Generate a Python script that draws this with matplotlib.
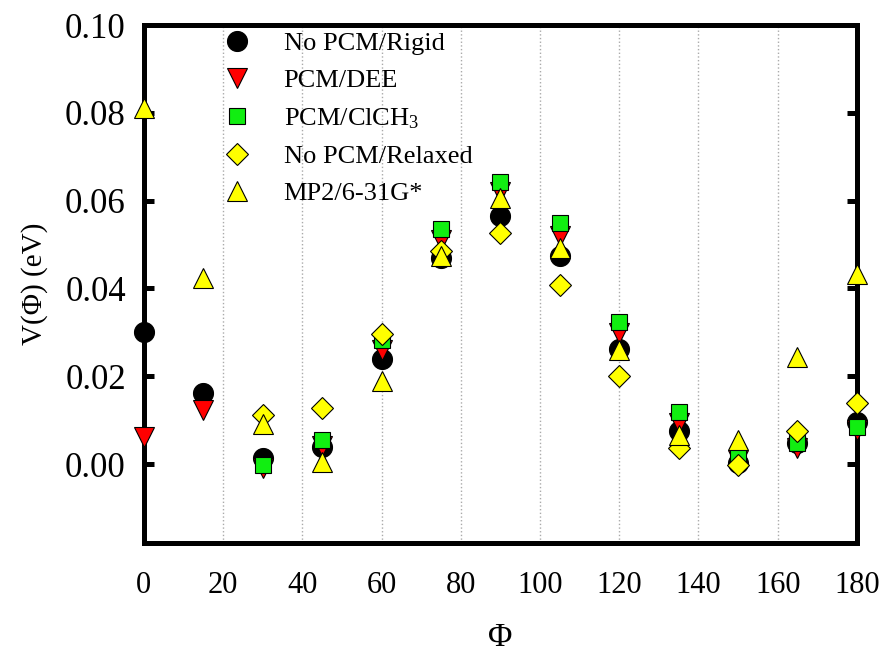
import numpy as np
import matplotlib
matplotlib.use("Agg")
import matplotlib.pyplot as plt

plt.rcParams["font.family"] = ["Liberation Serif", "DejaVu Serif"]
plt.rcParams["mathtext.fontset"] = "custom"
plt.rcParams["mathtext.rm"] = "Liberation Serif"
plt.rcParams["mathtext.it"] = "Liberation Serif:italic"

nan = np.nan
phi = [0, 15, 30, 45, 60, 75, 90, 105, 120, 135, 150, 165, 180]

rigid   = [0.0300, 0.0162, 0.0013, 0.0039, 0.0239, 0.0470, 0.0565, 0.0474, 0.0262, 0.0075, 0.0002, 0.0048, 0.0096]
dee     = [0.0062, 0.0123, -0.0010, 0.0040, 0.0260, 0.0510, 0.0620, 0.0520, 0.0298, 0.0093, 0.0010, 0.0036, 0.0078]
clch3   = [nan, nan, -0.0002, 0.0055, 0.0283, 0.0535, 0.0642, 0.0549, 0.0324, 0.0118, 0.0020, 0.0048, 0.0084]
relaxed = [nan, nan, 0.0112, 0.0128, 0.0296, 0.0485, 0.0526, 0.0408, 0.0200, 0.0036, -0.0002, 0.0075, 0.0139]
mp2     = [0.0810, 0.0424, 0.0091, 0.0005, 0.0189, 0.0474, 0.0606, 0.0492, 0.0260, 0.0066, 0.0055, 0.0244, 0.0433]

labels = ["No PCM/Rigid", "PCM/DEE", "PCM/ClCH$_3$", "No PCM/Relaxed", "MP2/6-31G*"]

fig = plt.figure(figsize=(8.88, 6.59), dpi=100)
ax = fig.add_axes([0.162, 0.176, 0.803, 0.786])

styles = [
    (rigid,   "o", "black",   14.4),
    (dee,     "v", "#ff0000", 14.4),
    (clch3,   "s", "#11ee11", 12.2),
    (relaxed, "D", "#ffff00", 11.7),
    (mp2,     "^", "#ffff00", 14.4),
]
for (vals, m, col, ms), lab in zip(styles, labels):
    ax.plot(phi, vals, ls="none", marker=m, ms=ms, mfc=col, mec="black",
            mew=0.8, clip_on=False, label=lab, zorder=3)

ax.set_xlim(0, 180)
ax.set_ylim(-0.018, 0.10)
ax.set_xticks(np.arange(0, 181, 20))
ax.set_yticks(np.arange(0, 0.101, 0.02))
ax.set_yticklabels([f"{v:.2f}" for v in np.arange(0, 0.101, 0.02)])

for s in ax.spines.values():
    s.set_linewidth(3.6)
ax.tick_params(axis="x", length=0, pad=20, labelsize=22)
ax.tick_params(axis="y", direction="in", length=7, width=3.6, pad=13,
               labelsize=25, right=True)
ax.xaxis.grid(True, ls=":", color="#aaaaaa", lw=1.0)

ax.set_xlabel("Φ", fontsize=24, labelpad=16)
ax.set_ylabel("V(Φ) (eV)", fontsize=21, labelpad=12)

ax.legend(loc="upper left", bbox_to_anchor=(0.085, 1.0), frameon=False,
          fontsize=19, labelspacing=0.52, handletextpad=0.75,
          borderpad=0.1, borderaxespad=0.15)

fig.savefig("out.png", dpi=100)
